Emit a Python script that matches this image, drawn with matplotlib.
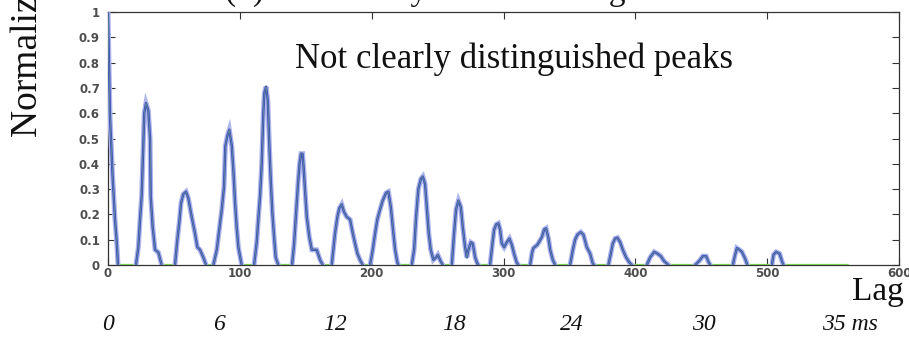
import matplotlib
matplotlib.use("Agg")
import matplotlib.pyplot as plt
import numpy as np

# Autocorrelation lobes: lag positions (samples) and normalized values
lobe_lags = [
    [0, 1.5, 3.4, 5.3, 6.5, 7.6],
    [21.2, 23.0, 24.3, 25.6, 26.3, 26.8, 27.5, 28.8, 30.6, 31.9, 32.4, 33.9, 35.7, 38.2, 40.7],
    [50.8, 52.6, 54.1, 55.4, 57.1, 59.2, 60.9, 63.5, 66.0, 67.8, 69.8, 72.3, 74.4],
    [79.9, 82.5, 84.4, 86.3, 88.0, 89.0, 90.5, 92.0, 93.9, 95.1, 96.4, 97.6, 98.9, 101.4],
    [110.8, 112.8, 114.0, 115.3, 116.6, 117.8, 118.6, 119.9, 121.2, 122.4, 123.4, 124.7, 126.0, 127.2, 129.2],
    [139.6, 141.1, 142.6, 144.1, 145.3, 146.4, 147.6, 148.7, 149.4, 150.8, 152.7, 154.6, 158.3, 160.9, 162.9],
    [169.7, 172.2, 174.0, 175.5, 177.3, 179.0, 181.1, 183.6, 185.7, 187.4, 189.2, 191.2, 193.2],
    [198.8, 200.8, 202.6, 204.3, 206.4, 208.4, 210.9, 212.7, 214.5, 216.5, 217.8, 219.5, 220.3],
    [230.4, 232.2, 233.7, 235.4, 237.3, 238.8, 240.5, 241.8, 243.3, 244.8, 246.8, 248.9, 250.2, 251.9, 253.9],
    [260.8, 262.5, 264.0, 265.8, 267.6, 269.1, 270.9, 272.2, 273.4, 275.2, 276.7, 278.5, 280.2, 281.0],
    [289.8, 291.6, 292.9, 294.4, 296.1, 297.4, 298.7, 300.5, 302.5, 304.5, 306.3, 308.0, 310.0, 311.3],
    [320.2, 321.7, 322.7, 325.7, 329.1, 330.8, 332.3, 334.1, 335.4, 337.4, 339.2],
    [350.5, 352.6, 354.3, 356.1, 358.6, 360.6, 363.2, 365.7, 367.8, 368.7],
    [379.6, 381.4, 382.9, 384.7, 386.4, 388.5, 390.5, 393.0, 395.5, 397.3],
    [408.7, 411.2, 414.3, 416.8, 419.3, 421.9, 425.1],
    [445.4, 448.6, 451.2, 453.7, 455.5, 456.8],
    [474.0, 475.2, 477.0, 479.0, 480.8, 483.3, 485.0],
    [503.6, 504.8, 506.8, 509.4, 511.2, 512.4],
]
lobe_vals = [
    [1.0, 0.59, 0.36, 0.18, 0.10, 0.0],
    [0.0, 0.07, 0.18, 0.28, 0.40, 0.48, 0.60, 0.64, 0.61, 0.50, 0.27, 0.15, 0.06, 0.05, 0.0],
    [0.0, 0.10, 0.17, 0.245, 0.28, 0.29, 0.265, 0.19, 0.125, 0.07, 0.06, 0.03, 0.0],
    [0.0, 0.06, 0.14, 0.22, 0.31, 0.47, 0.51, 0.535, 0.47, 0.375, 0.245, 0.15, 0.07, 0.0],
    [0.0, 0.09, 0.18, 0.27, 0.40, 0.60, 0.68, 0.705, 0.65, 0.47, 0.34, 0.205, 0.11, 0.03, 0.0],
    [0.0, 0.08, 0.20, 0.32, 0.40, 0.44, 0.44, 0.36, 0.30, 0.19, 0.11, 0.06, 0.06, 0.02, 0.0],
    [0.0, 0.125, 0.19, 0.225, 0.24, 0.21, 0.19, 0.18, 0.125, 0.085, 0.045, 0.02, 0.0],
    [0.0, 0.06, 0.125, 0.18, 0.22, 0.255, 0.285, 0.29, 0.23, 0.125, 0.06, 0.01, 0.0],
    [0.0, 0.06, 0.19, 0.30, 0.34, 0.35, 0.32, 0.23, 0.125, 0.06, 0.02, 0.03, 0.04, 0.02, 0.0],
    [0.0, 0.125, 0.22, 0.255, 0.23, 0.15, 0.07, 0.03, 0.06, 0.09, 0.085, 0.03, 0.005, 0.0],
    [0.0, 0.085, 0.14, 0.16, 0.165, 0.14, 0.085, 0.07, 0.09, 0.105, 0.08, 0.045, 0.01, 0.0],
    [0.0, 0.05, 0.067, 0.08, 0.11, 0.14, 0.145, 0.105, 0.06, 0.02, 0.0],
    [0.0, 0.06, 0.10, 0.12, 0.13, 0.12, 0.07, 0.045, 0.005, 0.0],
    [0.0, 0.045, 0.085, 0.105, 0.108, 0.09, 0.06, 0.03, 0.01, 0.0],
    [0.0, 0.03, 0.052, 0.045, 0.035, 0.015, 0.0],
    [0.0, 0.017, 0.035, 0.035, 0.012, 0.0],
    [0.0, 0.03, 0.067, 0.06, 0.052, 0.025, 0.0],
    [0.0, 0.04, 0.052, 0.045, 0.015, 0.0],
]
record_end = 561

xticks = [0, 100, 200, 300, 400, 500, 600]
yticks = [0, 0.1, 0.2, 0.3, 0.4, 0.5, 0.6, 0.7, 0.8, 0.9, 1.0]
ytick_labels = ["0", "0.1", "0.2", "0.3", "0.4", "0.5", "0.6", "0.7", "0.8", "0.9", "1"]

ms_labels = ["0", "6", "12", "18", "24", "30", "35 ms"]
ms_left_px = [101.7, 213, 323, 441.7, 560, 691.7, 821.7]

W, H = 909, 338
fig = plt.figure(figsize=(W / 100, H / 100), dpi=100)
ax = fig.add_axes([108 / W, 73 / H, 791 / W, 253 / H])

serif = ["Liberation Serif", "DejaVu Serif"]

# full trace (green) through every lobe plus the flat tail
all_lags = np.concatenate([np.asarray(l, float) for l in lobe_lags] + [np.array([record_end])])
all_vals = np.concatenate([np.asarray(v, float) for v in lobe_vals] + [np.array([0.0])])
ax.plot(all_lags, all_vals, color="#86dc5c", lw=1.6, zorder=2)

# lobes in blue with a soft halo
for lg, vl in zip(lobe_lags, lobe_vals):
    ax.plot(lg, vl, color="#aeb6ea", lw=3.6, zorder=3, solid_joinstyle="miter")
    ax.plot(lg, vl, color="#3f50ba", lw=1.7, zorder=4)
ax.plot(all_lags, all_vals, color="#86dc5c", lw=0.4, zorder=5, alpha=0.6)

ax.set_xlim(0, 600)
ax.set_ylim(0, 1)
ax.set_xticks(xticks)
ax.set_yticks(yticks)
ax.set_yticklabels(ytick_labels)
ax.tick_params(direction="in", top=True, right=True, length=5, width=0.8,
               color="#333333", labelsize=8.5, labelcolor="#4d4d4d")
ax.tick_params(axis="x", pad=1.5)
ax.tick_params(axis="y", pad=5.8)
for lab in ax.get_xticklabels() + ax.get_yticklabels():
    lab.set_fontweight("bold")
for sp in ax.spines.values():
    sp.set_color("#333333")
    sp.set_linewidth(0.9)

# text overlays
fig.text(225 / W, 1.0, "(b) Less steady vowel voicing", family=serif,
         fontsize=24, ha="left", va="baseline", color="#111111")
fig.text(37 / W, 1 - 137 / H, "Normalized autocorrelation", family=serif, fontsize=27,
         rotation=90, rotation_mode="anchor", ha="left", va="baseline", color="#111111")
fig.text(295 / W, 1 - 68 / H, "Not clearly distinguished peaks", family=serif,
         fontsize=25, ha="left", va="baseline", color="#111111")
fig.text(852 / W, 1 - 300 / H, "Lag", family=serif, fontsize=24,
         ha="left", va="baseline", color="#111111")
for lab, px in zip(ms_labels, ms_left_px):
    fig.text(px / W, 1 - 330 / H, lab, family=serif, style="italic", fontsize=17,
             ha="left", va="baseline", color="#111111")

fig.savefig("out.png", dpi=100)
